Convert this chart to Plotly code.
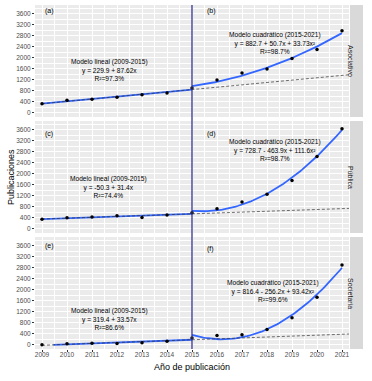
import numpy as np
import plotly.graph_objects as go
from plotly.subplots import make_subplots

years = list(range(2009, 2022))
asociativo = [330, 460, 495, 573, 659, 720, 903, 1196, 1452, 1598, 1976, 2306, 2989]
publica = [355, 404, 428, 477, 416, 502, 588, 734, 979, 1260, 1763, 2632, 3648]
societaria = [5, 37, 61, 49, 73, 130, 250, 340, 365, 560, 987, 1730, 2912]

facets = ["Asociativo", "Pública", "Societaria"]
series = [asociativo, publica, societaria]
panel_tags = [("(a)", "(b)"), ("(c)", "(d)"), ("(e)", "(f)")]
tag_y = [(3700, 3700), (3450, 3450), (3600, 3480)]
lin_labels = [
    "Modelo lineal (2009-2015)<br>y = 229.9 + 87.62x<br>R²=97.3%",
    "Modelo lineal (2009-2015)<br>y = -50.3 + 31.4x<br>R²=74.4%",
    "Modelo lineal (2009-2015)<br>y = 319.4 + 33.57x<br>R²=86.6%",
]
quad_labels = [
    "Modelo cuadrático (2015-2021)<br>y = 882.7 + 50.7x + 33.73x²<br>R²=98.7%",
    "Modelo cuadrático (2015-2021)<br>y = 728.7 - 463.9x + 111.6x²<br>R²=98.7%",
    "Modelo cuadrático (2015-2021)<br>y = 816.4 - 256.2x + 93.42x²<br>R²=99.6%",
]
lin_label_pos = [(2011.7, 1555), (2011.65, 1510), (2011.7, 940)]
quad_label_pos = [(2018.3, 2540), (2018.3, 2880), (2018.25, 1975)]
y_ticks = [0, 400, 800, 1200, 1600, 2000, 2400, 2800, 3200, 3600]
break_year = 2015

FONT = "Liberation Sans, Arial, sans-serif"
W, H = 372, 381
ML, MR, MT, MB = 35, 23, 5, 32
pw = W - ML - MR
ph = H - MT - MB

fig = make_subplots(rows=3, cols=1, shared_xaxes=True, vertical_spacing=4 / ph)

yrs = np.array(years, dtype=float)
for i, vals in enumerate(series):
    r = i + 1
    v = np.array(vals, dtype=float)
    m1 = yrs <= break_year
    m2 = yrs >= break_year
    c1 = np.polyfit(yrs[m1] - 2008, v[m1], 1)
    xl = np.linspace(yrs[m1].min(), yrs[m1].max(), 80)
    yl = np.polyval(c1, xl - 2008)
    yl_plot = [float(y) if y >= 0 else None for y in yl]
    c2 = np.polyfit(yrs[m2] - 2014, v[m2], 2)
    xq = np.linspace(yrs[m2].min(), yrs[m2].max(), 80)
    yq = np.polyval(c2, xq - 2014)
    xd = np.linspace(2009, 2021.28, 60)
    yd = np.polyval(c1, xd - 2008)

    fig.add_trace(go.Scatter(x=xl, y=yl_plot, mode="lines",
                             line=dict(color="#3366FF", width=1.8),
                             showlegend=False, hoverinfo="skip"), row=r, col=1)
    fig.add_trace(go.Scatter(x=xq, y=yq, mode="lines",
                             line=dict(color="#3366FF", width=1.8),
                             showlegend=False, hoverinfo="skip"), row=r, col=1)
    fig.add_trace(go.Scatter(x=xd, y=yd, mode="lines",
                             line=dict(color="#333333", width=0.7, dash="3px,2px"),
                             showlegend=False, hoverinfo="skip"), row=r, col=1)
    fig.add_trace(go.Scatter(x=years, y=vals, mode="markers",
                             marker=dict(color="black", size=3.5),
                             showlegend=False), row=r, col=1)

    xa = "x" if r == 1 else f"x{r}"
    ya = "y" if r == 1 else f"y{r}"
    fig.add_annotation(x=2009.05, y=tag_y[i][0], xref=xa, yref=ya, text=panel_tags[i][0],
                       showarrow=False, xanchor="left",
                       font=dict(family=FONT, size=7, color="black"))
    fig.add_annotation(x=2015.5, y=tag_y[i][1], xref=xa, yref=ya, text=panel_tags[i][1],
                       showarrow=False, xanchor="left",
                       font=dict(family=FONT, size=7, color="black"))
    fig.add_annotation(x=lin_label_pos[i][0], y=lin_label_pos[i][1], xref=xa, yref=ya,
                       text=lin_labels[i], showarrow=False, align="center",
                       font=dict(family=FONT, size=6.6, color="black"))
    fig.add_annotation(x=quad_label_pos[i][0], y=quad_label_pos[i][1], xref=xa, yref=ya,
                       text=quad_labels[i], showarrow=False, align="center",
                       font=dict(family=FONT, size=6.6, color="black"))
    fig.add_shape(type="rect", xref="paper", yref=f"{ya} domain",
                  x0=(350 - ML) / pw, x1=(363 - ML) / pw, y0=0, y1=1,
                  fillcolor="#D9D9D9", line=dict(width=0), layer="below")
    fig.add_annotation(xref="paper", yref=f"{ya} domain", x=(356.5 - ML) / pw, y=0.5,
                       text=facets[i], textangle=90, showarrow=False,
                       font=dict(family=FONT, size=7, color="#1A1A1A"))

    fig.update_yaxes(row=r, col=1, range=[-150, 3927], tickvals=y_ticks,
                     ticktext=[str(t) for t in y_ticks], automargin=False,
                     showgrid=True, gridcolor="white", gridwidth=0.9,
                     minor=dict(dtick=200, showgrid=True, gridcolor="white", gridwidth=0.4),
                     zeroline=False, showline=False, ticks="outside", ticklen=2, tickwidth=0.6,
                     tickcolor="#333333",
                     tickfont=dict(family=FONT, size=6.5, color="#4D4D4D"))
    fig.update_xaxes(row=r, col=1, range=[2008.72, 2021.28], tickvals=years,
                     ticktext=[str(y) for y in years], automargin=False,
                     showgrid=True, gridcolor="white", gridwidth=0.9,
                     minor=dict(dtick=0.5, tick0=2009, showgrid=True, gridcolor="white", gridwidth=0.4),
                     zeroline=False, showline=False, ticks="outside" if r == 3 else "", ticklen=2,
                     tickwidth=0.6, tickcolor="#333333",
                     showticklabels=(r == 3), ticklabelstandoff=-3,
                     tickfont=dict(family=FONT, size=6.5, color="#4D4D4D"))

fig.add_shape(type="line", xref="x3", yref="paper", x0=break_year, x1=break_year,
              y0=0, y1=1, line=dict(color="#34348C", width=1.3))

fig.add_annotation(xref="paper", yref="paper", x=(11 - ML) / pw, y=0.5,
                   xanchor="center", yanchor="middle",
                   text="Publicaciones", textangle=-90, showarrow=False,
                   font=dict(family=FONT, size=9, color="black"))
fig.add_annotation(xref="paper", yref="paper", x=0.5, y=(ph - (367 - MT)) / ph,
                   xanchor="center", yanchor="middle",
                   text="Año de publicación", showarrow=False,
                   font=dict(family=FONT, size=9, color="black"))

fig.update_layout(width=W, height=H, margin=dict(l=ML, r=MR, t=MT, b=MB, autoexpand=False),
                  plot_bgcolor="#EBEBEB", paper_bgcolor="white",
                  font=dict(family=FONT))

fig.write_html("out.html", config={"displayModeBar": False},
               post_script="document.body.style.margin='0';")
